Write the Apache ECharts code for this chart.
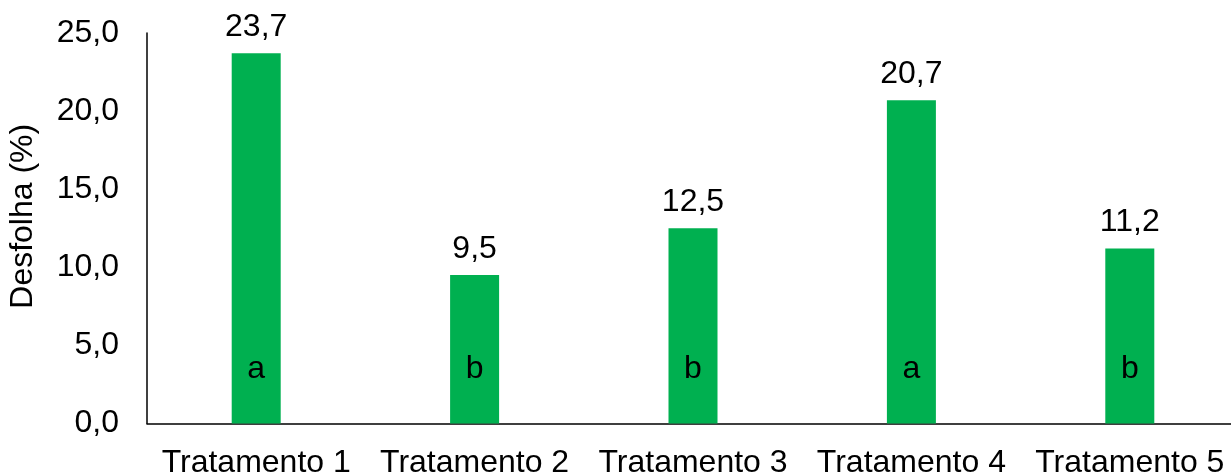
<!DOCTYPE html>
<html>
<head>
<meta charset="utf-8">
<script src="https://cdn.jsdelivr.net/npm/echarts@6/dist/echarts.min.js"></script>
<style>
  html, body { margin: 0; padding: 0; background: #ffffff; }
  #chart { width: 1231px; height: 472px; }
</style>
</head>
<body>
<div id="chart"></div>
<script>
// Defoliation per treatment, with significance letters
const categories = ['Tratamento 1', 'Tratamento 2', 'Tratamento 3', 'Tratamento 4', 'Tratamento 5'];
const desfolha = [23.7, 9.5, 12.5, 20.7, 11.2];
const letters = ['a', 'b', 'b', 'a', 'b'];
const yTicks = { min: 0, max: 25, interval: 5 };

const FONT = '"Liberation Sans", Arial, sans-serif';
const SIZE = 32;
const fmt = v => Number(v).toFixed(1).replace('.', ',');

const chart = echarts.init(document.getElementById('chart'), null, { renderer: 'canvas' });

chart.setOption({
  animation: false,
  backgroundColor: '#ffffff',
  textStyle: { fontFamily: FONT },
  grid: { left: 147, right: -8, top: 33, bottom: 48.5, containLabel: false, outerBoundsMode: 'none' },
  xAxis: {
    type: 'category',
    data: categories,
    axisLine: { show: true, lineStyle: { color: '#000000', width: 1.5 } },
    axisTick: { show: false },
    axisLabel: { color: '#000000', fontSize: SIZE, fontFamily: FONT, margin: 24, interval: 0, hideOverlap: false },
    splitLine: { show: false }
  },
  yAxis: {
    type: 'value',
    min: yTicks.min,
    max: yTicks.max,
    interval: yTicks.interval,
    name: 'Desfolha (%)',
    nameLocation: 'middle',
    nameRotate: 90,
    nameGap: 108,
    nameTextStyle: { color: '#000000', fontSize: SIZE, fontFamily: FONT, padding: [0, 0, 0, 24] },
    axisLine: { show: true, lineStyle: { color: '#000000', width: 1.5 } },
    axisTick: { show: false },
    axisLabel: { color: '#000000', fontSize: SIZE, fontFamily: FONT, margin: 28, formatter: fmt },
    splitLine: { show: false }
  },
  series: [
    {
      name: 'Desfolha',
      type: 'bar',
      data: desfolha,
      barWidth: 49,
      itemStyle: { color: '#00B050' },
      label: {
        show: true,
        position: 'top',
        distance: 10,
        color: '#000000',
        fontSize: SIZE,
        fontFamily: FONT,
        formatter: p => fmt(p.value)
      }
    },
    {
      // transparent overlay carrying the significance letters
      name: 'Letras',
      type: 'bar',
      data: desfolha,
      barWidth: 49,
      barGap: '-100%',
      silent: true,
      itemStyle: { color: 'rgba(0,0,0,0)' },
      label: {
        show: true,
        position: 'insideBottom',
        distance: 38,
        color: '#000000',
        fontSize: SIZE,
        fontFamily: FONT,
        formatter: p => letters[p.dataIndex]
      }
    }
  ]
});
</script>
</body>
</html>
